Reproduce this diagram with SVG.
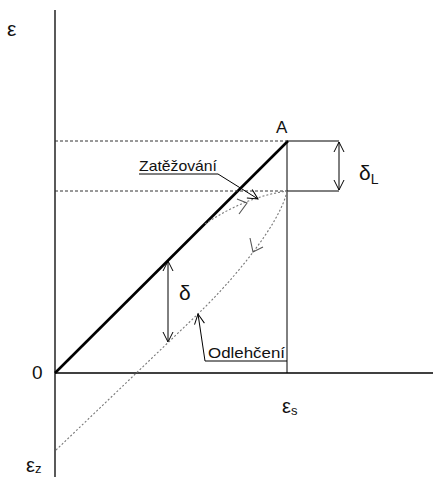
<svg xmlns="http://www.w3.org/2000/svg" width="433" height="477" viewBox="0 0 433 477">
<style>
.ax{stroke:#000;stroke-width:1.3;fill:none}
.thick{stroke:#000;stroke-width:2.6;fill:none}
.dash{stroke:#333;stroke-width:1;stroke-dasharray:3,2;fill:none}
.dot{stroke:#777;stroke-width:1.1;stroke-dasharray:2,2;fill:none}
.ln{stroke:#000;stroke-width:1;fill:none}
.ahg{stroke:#555;stroke-width:1.1;fill:none}
text{font-family:"Liberation Sans","DejaVu Sans",sans-serif;fill:#111}
</style>
<defs>
<marker id="v" viewBox="0 0 12 12" refX="11" refY="6" markerWidth="12" markerHeight="12" markerUnits="userSpaceOnUse" orient="auto-start-reverse">
<path d="M1,1 L11,6 L1,11" fill="none" stroke="#000" stroke-width="1"/>
</marker>
</defs>
<g id="axes">
<line class="ax" x1="55" y1="10" x2="55" y2="477"/>
<line class="ax" x1="55" y1="373" x2="433" y2="373"/>
</g>
<g id="connectors">
<line class="thick" x1="55" y1="373" x2="288" y2="141"/>
<line class="ln" x1="287" y1="141" x2="287" y2="373"/>
<line class="dash" x1="55" y1="141" x2="287" y2="141"/>
<line class="dash" x1="55" y1="191" x2="287" y2="191"/>
<line class="ln" x1="287" y1="141" x2="339" y2="141"/>
<line class="ln" x1="287" y1="191" x2="339" y2="191"/>
<line class="ln" x1="339" y1="142" x2="339" y2="190" marker-start="url(#v)" marker-end="url(#v)"/>
<line class="ln" x1="168" y1="261" x2="168" y2="342" marker-start="url(#v)" marker-end="url(#v)"/>
<path class="dot" d="M205,224 Q245,197 287,191"/>
<path class="dot" d="M287,191 C280,225 230,283 200,312 L55,451"/>
<polyline class="ahg" points="237,199 247,203 239,214"/>
<polyline class="ahg" points="250,238 253,252 263,247"/>
<path class="ln" d="M139,174 L218,174 L258,199" marker-end="url(#v)"/>
<path class="ln" d="M287,361 L205,361 L198,314" marker-end="url(#v)"/>
</g>
<g id="labels">
<text x="7" y="36" font-size="21">ε</text>
<text x="32" y="379" font-size="19">0</text>
<text x="276" y="133" font-size="17">A</text>
<text x="359" y="180" font-size="21">δ<tspan font-size="14" dy="4">L</tspan></text>
<text x="179" y="300" font-size="21">δ</text>
<text x="139" y="171" font-size="15" textLength="78" lengthAdjust="spacingAndGlyphs">Zatěžování</text>
<text x="208" y="358" font-size="15" textLength="77" lengthAdjust="spacingAndGlyphs">Odlehčení</text>
<text x="282" y="413" font-size="20">ε<tspan font-size="13" dy="2">s</tspan></text>
<text x="26" y="472" font-size="20">ε<tspan font-size="13" dy="1">z</tspan></text>
</g>
</svg>
